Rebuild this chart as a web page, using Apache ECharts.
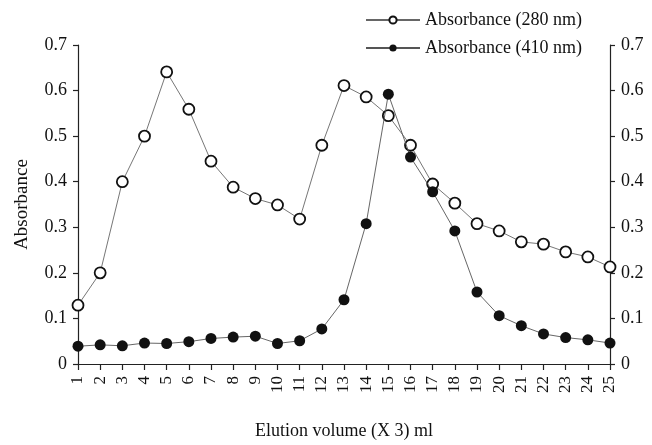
<!DOCTYPE html>
<html>
<head>
<meta charset="utf-8">
<script src="https://cdn.jsdelivr.net/npm/echarts@6/dist/echarts.min.js"></script>
<style>
  html, body { margin: 0; padding: 0; background: #fff; }
  #chart { width: 652px; height: 445px; }
</style>
</head>
<body>
<div id="chart"></div>
<script>
// Fraction numbers (each fraction = 3 ml)
const fractions = ['1','2','3','4','5','6','7','8','9','10','11','12','13','14','15','16','17','18','19','20','21','22','23','24','25'];

// Absorbance at 280 nm (protein)
const abs280 = [0.129, 0.200, 0.400, 0.500, 0.641, 0.559, 0.445, 0.388, 0.363, 0.349, 0.318, 0.480,
                0.611, 0.586, 0.545, 0.480, 0.395, 0.353, 0.308, 0.292, 0.268, 0.263, 0.246, 0.235, 0.213];

// Absorbance at 410 nm (heme)
const abs410 = [0.039, 0.042, 0.040, 0.046, 0.045, 0.049, 0.056, 0.059, 0.061, 0.045, 0.051, 0.077,
                0.141, 0.308, 0.592, 0.454, 0.378, 0.292, 0.158, 0.106, 0.084, 0.066, 0.058, 0.053, 0.046];

const yTicks = { min: 0, max: 0.7, interval: 0.1 };

const serif = 'Liberation Serif';
const ink = '#111';

const valueAxis = (pos, withName) => ({
  type: 'value',
  position: pos,
  min: yTicks.min,
  max: yTicks.max,
  interval: yTicks.interval,
  name: withName ? 'Absorbance' : '',
  nameLocation: 'middle',
  nameGap: 46,
  nameTextStyle: { fontFamily: serif, fontSize: 19, color: ink },
  axisLine: { show: true, lineStyle: { color: '#222', width: 1.2 } },
  axisTick: { show: true, inside: false, length: 5, lineStyle: { color: '#222', width: 1.2 } },
  axisLabel: {
    fontFamily: serif, fontSize: 18, color: ink, margin: 11,
    formatter: v => (v === 0 ? '0' : v.toFixed(1))
  },
  splitLine: { show: false }
});

const chart = echarts.init(document.getElementById('chart'), null, { renderer: 'canvas' });

chart.setOption({
  animation: false,
  backgroundColor: '#fff',
  grid: { left: 78, right: 42, top: 45, bottom: 73, containLabel: false },
  legend: {
    orient: 'vertical',
    left: 360,
    top: 6,
    itemWidth: 54,
    itemHeight: 9,
    itemGap: 10,
    textStyle: { fontFamily: serif, fontSize: 18, color: ink },
    data: ['Absorbance (280 nm)', 'Absorbance (410 nm)']
  },
  xAxis: {
    type: 'category',
    data: fractions,
    boundaryGap: false,
    name: 'Elution volume (X 3) ml',
    nameLocation: 'middle',
    nameGap: 58,
    nameTextStyle: { fontFamily: serif, fontSize: 18, color: ink },
    axisLine: { lineStyle: { color: '#222', width: 1.2 } },
    axisTick: { alignWithLabel: true, length: 6, lineStyle: { color: '#222', width: 1.2 } },
    axisLabel: {
      interval: 0, rotate: 90, margin: 12,
      fontFamily: serif, fontSize: 17, color: ink
    }
  },
  yAxis: [valueAxis('left', true), valueAxis('right', false)],
  series: [
    {
      name: 'Absorbance (280 nm)',
      type: 'line',
      data: abs280,
      yAxisIndex: 0,
      symbol: 'circle',
      symbolSize: 11,
      itemStyle: { color: '#fff', borderColor: '#111', borderWidth: 1.8 },
      lineStyle: { color: '#666', width: 0.9 },
      z: 3
    },
    {
      name: 'Absorbance (410 nm)',
      type: 'line',
      data: abs410,
      yAxisIndex: 1,
      symbol: 'circle',
      symbolSize: 11,
      itemStyle: { color: '#111', borderColor: '#111', borderWidth: 0 },
      lineStyle: { color: '#555', width: 0.9 },
      z: 4
    }
  ]
});
</script>
</body>
</html>
